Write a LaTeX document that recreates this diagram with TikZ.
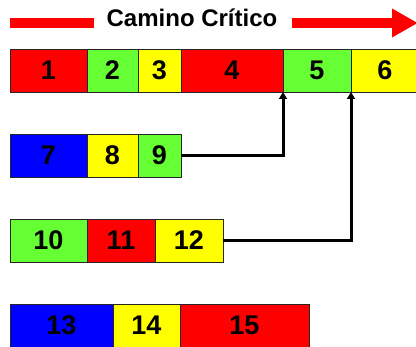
\documentclass[tikz,border=0pt]{standalone}
\usepackage{fontspec}
\setmainfont{Liberation Sans}
\usetikzlibrary{arrows.meta, positioning}
\definecolor{tred}{RGB}{255,0,0}
\definecolor{tgreen}{RGB}{102,255,51}
\definecolor{tyellow}{RGB}{255,255,0}
\definecolor{tblue}{RGB}{0,0,255}

\begin{document}
\begin{tikzpicture}[
    x=1pt, y=-1pt,
    node distance=0pt,
    task/.style={draw=black!85, line width=0.8pt, inner sep=0pt, outer sep=0pt, minimum height=43pt, font=\fontsize{27}{30}\selectfont\bfseries},
    link/.style={line width=3pt, -{Triangle[width=8pt, length=7pt]}},
    bar/.style={tred, line width=10pt}]
  \useasboundingbox (0,0) rectangle (416,347);
  % title arrow
  \node[anchor=base, font=\fontsize{24}{28}\selectfont\bfseries, inner sep=0pt] (title) at (192,27) {Camino Crítico};
  \coordinate (tl) at (10,23);
  \coordinate (tr) at (418,23);
  \draw[bar] (tl) -- ([xshift=-12pt]title.west |- tl);
  \draw[bar, -{Triangle[width=27pt, length=26pt]}] ([xshift=14pt]title.east |- tr) -- (tr);
  % critical path
  \node[task, fill=tred, minimum width=77pt, anchor=north west] (t1) at (10,49) {1};
  \node[task, fill=tgreen, minimum width=51pt, right=of t1] (t2) {2};
  \node[task, fill=tyellow, minimum width=43pt, right=of t2] (t3) {3};
  \node[task, fill=tred, minimum width=102pt, right=of t3] (t4) {4};
  \node[task, fill=tgreen, minimum width=68pt, right=of t4] (t5) {5};
  \node[task, fill=tyellow, minimum width=68pt, right=of t5] (t6) {6};
  % second row
  \node[task, fill=tblue, minimum width=77pt, anchor=north west] (t7) at (10,134) {7};
  \node[task, fill=tyellow, minimum width=51pt, right=of t7] (t8) {8};
  \node[task, fill=tgreen, minimum width=43pt, right=of t8] (t9) {9};
  % third row
  \node[task, fill=tgreen, minimum width=77pt, anchor=north west] (t10) at (10,219) {10};
  \node[task, fill=tred, minimum width=68pt, right=of t10] (t11) {11};
  \node[task, fill=tyellow, minimum width=68pt, right=of t11] (t12) {12};
  % fourth row
  \node[task, fill=tblue, minimum width=103pt, anchor=north west] (t13) at (10,304) {13};
  \node[task, fill=tyellow, minimum width=67pt, right=of t13] (t14) {14};
  \node[task, fill=tred, minimum width=129pt, right=of t14] (t15) {15};
  % links into the critical path
  \draw[link] (t9.east) -| (t5.south west);
  \draw[link] (t12.east) -| (t5.south east);
\end{tikzpicture}
\end{document}
